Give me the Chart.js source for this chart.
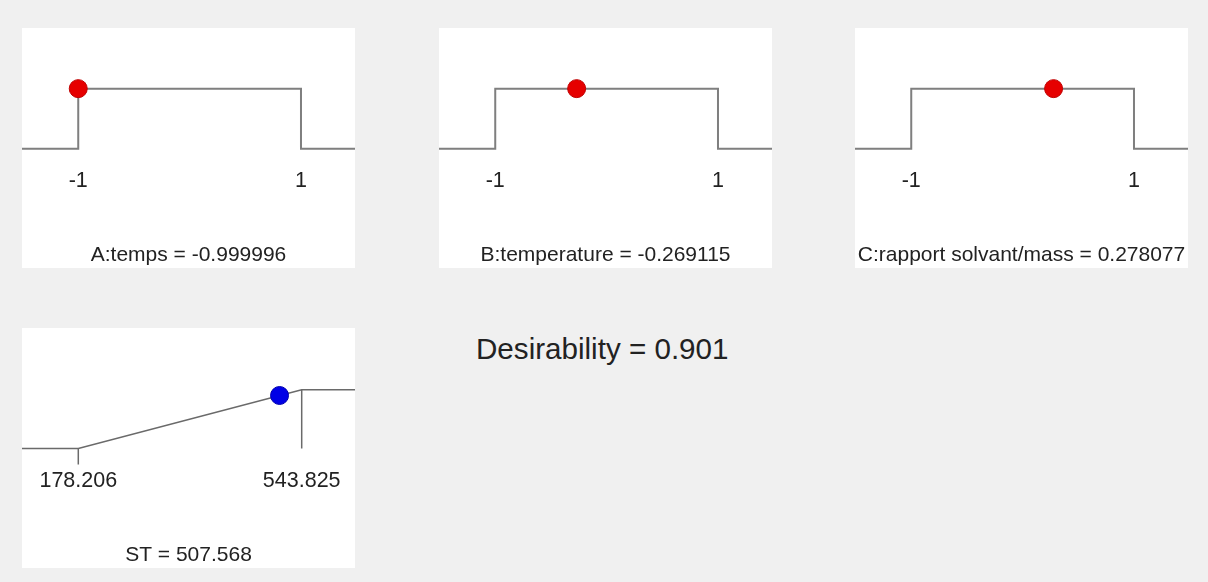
<!DOCTYPE html>
<html>
<head>
<meta charset="utf-8">
<script src="https://cdn.jsdelivr.net/npm/chart.js@4.4.0/dist/chart.umd.min.js"></script>
<style>
  body { margin: 0; background: #f0f0f0; width: 1208px; height: 582px; position: relative; overflow: hidden;
         font-family: "Liberation Sans", Arial, sans-serif; }
  .panel { position: absolute; width: 333px; height: 240px; background: #fff; }
  #desir { position: absolute; left: 476px; top: 334px; font-size: 29.6px; line-height: 29px; color: #222; white-space: nowrap; }
</style>
</head>
<body>
<div class="panel" style="left:22px;top:28px"><canvas id="panelA"></canvas></div>
<div class="panel" style="left:439px;top:28px"><canvas id="panelB"></canvas></div>
<div class="panel" style="left:855px;top:28px"><canvas id="panelC"></canvas></div>
<div class="panel" style="left:22px;top:328px"><canvas id="panelST"></canvas></div>
<div id="desir"></div>

<script>
// factors (coded units)
const factorNames = ["A:temps", "B:temperature", "C:rapport solvant/mass"];
const factorValues = [-0.999996, -0.269115, 0.278077];
const factorLow = -1;
const factorHigh = 1;
const factorTicks = [-1, 1];
const factorRange = [-1.505, 1.485];

// response
const responseName = "ST";
const responseValue = 507.568;
const responseLow = 178.206;
const responseHigh = 543.825;
const responseTicks = [178.206, 543.825];
const responseRange = [86.07, 631.06];

const desirability = 0.901;

Chart.defaults.font.family = '"Liberation Sans", Arial, sans-serif';

document.getElementById("desir").textContent = "Desirability = " + desirability;

function makePanel(id, title, xRange, yRange, ticks, datasets) {
    return new Chart(document.getElementById(id), {
        type: 'line',
        data: { datasets: datasets },
        options: {
            responsive: true,
            maintainAspectRatio: false,
            animation: false,
            events: [],
            layout: { padding: 0, autoPadding: false },
            plugins: {
                legend: { display: false },
                tooltip: { enabled: false },
                title: {
                    display: true,
                    position: 'bottom',
                    text: title,
                    color: '#222',
                    font: { size: 21, weight: 'normal' },
                    padding: { top: 42.5, bottom: 0 }
                }
            },
            scales: {
                x: {
                    type: 'linear',
                    min: xRange[0],
                    max: xRange[1],
                    grid: { display: false, drawTicks: false },
                    border: { display: false },
                    afterBuildTicks: (scale) => { scale.ticks = ticks.map(v => ({ value: v })); },
                    ticks: {
                        padding: 6,
                        color: '#222',
                        font: { size: 21.5 },
                        autoSkip: false,
                        maxRotation: 0,
                        callback: (v) => String(v)
                    }
                },
                y: { display: false, min: yRange[0], max: yRange[1] }
            }
        }
    });
}

// top row: step desirability for each factor
const panelIds = ["panelA", "panelB", "panelC"];
factorNames.forEach((name, i) => {
    const step = [
        { x: factorRange[0], y: 0 }, { x: factorLow, y: 0 }, { x: factorLow, y: 1 },
        { x: factorHigh, y: 1 }, { x: factorHigh, y: 0 }, { x: factorRange[1], y: 0 }
    ];
    makePanel(panelIds[i], name + " = " + factorValues[i], factorRange, [-0.228, 2.008], factorTicks, [
        {
            data: [{ x: factorValues[i], y: 1 }],
            showLine: false,
            pointRadius: 9,
            pointBackgroundColor: '#e60000',
            pointBorderColor: '#c00000',
            pointBorderWidth: 1,
            clip: false
        },
        {
            data: step,
            borderColor: '#7f7f7f',
            borderWidth: 2,
            pointRadius: 0,
            tension: 0,
            clip: false
        }
    ]);
});

// bottom: response ramp
makePanel("panelST", responseName + " = " + responseValue, responseRange, [-0.236, 2.046], responseTicks, [
    {
        data: [{ x: responseValue, y: desirability }],
        showLine: false,
        pointRadius: 9,
        pointBackgroundColor: '#0000e6',
        pointBorderColor: '#0000b0',
        pointBorderWidth: 1,
        clip: false
    },
    {
        data: [{ x: responseRange[0], y: 0 }, { x: responseLow, y: 0 }, { x: responseHigh, y: 1 }, { x: responseRange[1], y: 1 }],
        borderColor: '#6a6a6a',
        borderWidth: 1.5,
        pointRadius: 0,
        tension: 0,
        clip: false
    },
    {
        data: [{ x: responseHigh, y: 1 }, { x: responseHigh, y: 0 }],
        borderColor: '#6a6a6a',
        borderWidth: 1.5,
        pointRadius: 0,
        clip: false
    },
    {
        data: [{ x: responseLow, y: 0 }, { x: responseLow, y: -0.27 }],
        borderColor: '#6a6a6a',
        borderWidth: 1.5,
        pointRadius: 0,
        clip: false
    }
]);
</script>
</body>
</html>
